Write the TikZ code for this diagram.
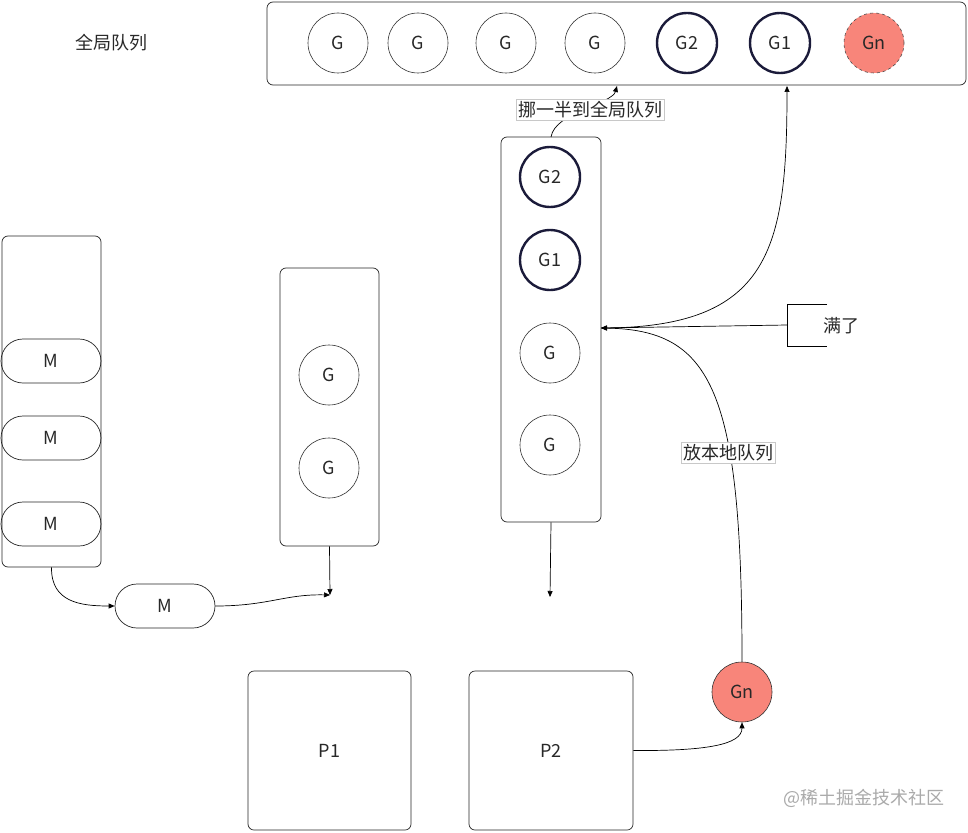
\documentclass[tikz,border=0pt]{standalone}
\usepackage{fontspec}
\setmainfont{Noto Sans CJK SC}
\usetikzlibrary{arrows.meta,shapes.misc}
\definecolor{salmonred}{RGB}{248,133,122}
\definecolor{navyline}{RGB}{27,27,58}
\definecolor{lightframe}{RGB}{200,200,200}
\definecolor{wmgrey}{RGB}{170,170,170}
\definecolor{txt}{RGB}{40,40,40}
\begin{document}
\begin{tikzpicture}[x=1pt,y=-1pt,
  font=\fontsize{18}{21}\selectfont, text=txt, line width=0.7pt,
  gnode/.style={circle, draw=black!80, minimum size=60pt, inner sep=0pt, line width=0.6pt},
  gthick/.style={gnode, draw=navyline, line width=2.4pt},
  gred/.style={gnode, fill=salmonred},
  box/.style={draw=black!85, rounded corners=6pt, inner sep=0pt},
  mpill/.style={draw=black!85, rounded rectangle, minimum width=100pt, minimum height=44pt, inner sep=0pt},
  lbl/.style={draw=lightframe, fill=white, inner sep=2pt, line width=0.5pt},
  arr/.style={-{Triangle[length=6pt,width=5pt]}}]
\useasboundingbox (0,0) rectangle (968,832);
\fill[white] (0,0) rectangle (968,832);

% global queue
\node[box, minimum width=699pt, minimum height=83pt] (bar) at (616.5,43.5) {};
\node (gtitle) at (111,43) {全局队列};
\node[gnode] (ga) at (338,43) {G};
\node[gnode] (gb) at (418,43) {G};
\node[gnode] (gc) at (506,43) {G};
\node[gnode] (gd) at (595,43) {G};
\node[gthick] (gg2) at (687,43) {G2};
\node[gthick] (gg1) at (780,43) {G1};
\node[gred, dashed, draw=black!70] (ggn) at (874,43) {Gn};

% M list
\node[box, minimum width=99pt, minimum height=331pt] (mbox) at (51.5,401.5) {};
\node[mpill] (m1) at (51,361) {M};
\node[mpill] (m2) at (51,438) {M};
\node[mpill] (m3) at (51,524) {M};
\node[mpill] (m4) at (165,606) {M};

% P1 local queue
\node[box, minimum width=99pt, minimum height=278pt] (q1) at (329.5,407) {};
\node[gnode] (q1a) at (329,375) {G};
\node[gnode] (q1b) at (329,468) {G};

% P2 local queue
\node[box, minimum width=100pt, minimum height=385pt] (q2) at (551,329.5) {};
\node[gthick] (q2a) at (550,177) {G2};
\node[gthick] (q2b) at (550,260) {G1};
\node[gnode] (q2c) at (550,353) {G};
\node[gnode] (q2d) at (550,445) {G};

% processors
\node[box, minimum width=163pt, minimum height=159pt] (p1) at (329.5,750.5) {P1};
\node[box, minimum width=164pt, minimum height=159pt] (p2) at (551,750.5) {P2};
\node[gred, draw=black!80] (gn) at (742,692) {Gn};

% coordinates
\coordinate (c1) at (330,595);
\coordinate (c2) at (550,597);
\coordinate (qin) at (601,328);
\coordinate (barg1) at (787,86);
\coordinate (barmid) at (617,86);
\coordinate (fullpt) at (787,325);

% connectors
\draw[arr] (mbox.south) .. controls (51,602) and (80,606) .. (m4.west);
\draw[arr] (m4.east) .. controls (268,606) and (285,594) .. (c1);
\draw[arr] (q1.south) -- (c1);
\draw[arr] (q2.south) -- (c2);
\draw[arr] (p2.east) .. controls (705,751) and (742,745) .. (gn.south);
\draw[arr] (gn.north) .. controls (742,390) and (712,330) .. (qin);
\draw[arr] (fullpt) -- (qin);
\draw[arr] (qin) .. controls (770,328) and (787,250) .. (barg1);
\draw[arr] (551,137) .. controls (555,112) and (612,104) .. (barmid);

% labels
\node[lbl] (movehalf) at (590,109.5) {挪一半到全局队列};
\node[lbl] (putlocal) at (728,453) {放本地队列};
\draw[line width=0.6pt] (827,304) -- (787,304) -- (787,346) -- (827,346);
\node (full) at (841,326) {满了};

\node[text=wmgrey] (wm) at (864,798) {@稀土掘金技术社区};
\end{tikzpicture}
\end{document}
